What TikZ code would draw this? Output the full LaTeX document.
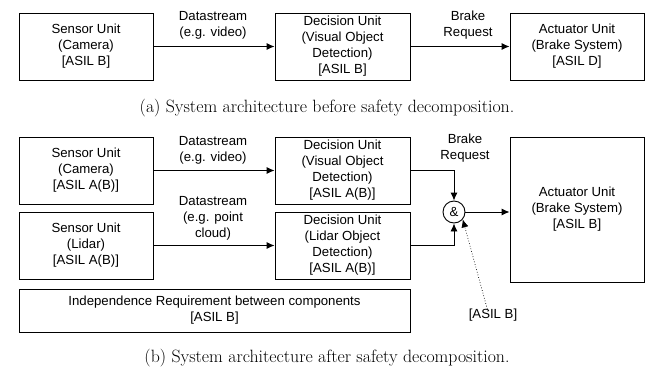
\documentclass[tikz,border=0pt]{standalone}
\usepackage{fontspec}
\setsansfont{Liberation Sans}
\usetikzlibrary{arrows.meta}

\newcommand{\boxfont}{\sffamily\fontsize{13.2}{16}\selectfont}
\newcommand{\capfont}{\rmfamily\fontsize{17.8}{20}\selectfont}

\tikzset{
	unit/.style={draw, line width=0.9pt, align=center, inner sep=0pt,
		minimum width=134pt, minimum height=67pt, font=\boxfont},
	lbl/.style={align=center, inner sep=0pt, font=\boxfont},
	flow/.style={-{Latex[length=8pt,width=7pt]}, line width=0.9pt},
	frame/.style={draw, double, double distance=1.4pt, line width=0.6pt},
}

\begin{document}
\begin{tikzpicture}[x=1pt,y=-1pt]
	\useasboundingbox (0,0) rectangle (654,378);
	% (a) before decomposition
	\draw[frame] (13,7) rectangle (650,86);
	\node[unit] (sensA) at (86,46.5) {Sensor Unit\\(Camera)\\{[ASIL B]}};
	\node[unit, minimum width=135pt] (decA) at (342.5,46.5) {Decision Unit\\(Visual Object\\Detection)\\{[ASIL B]}};
	\node[unit] (actA) at (577,46.5) {Actuator Unit\\(Brake System)\\{[ASIL D]}};
	\draw[flow] (sensA) -- (decA);
	\draw[flow] (decA) -- (actA);
	\node[lbl] (dsA) at (213,25) {Datastream\\(e.g. video)};
	\node[lbl] (brA) at (468,25) {Brake\\Request};
	\node[font=\capfont] (capA) at (327,108) {(a) System architecture before safety decomposition.};

	% (b) after decomposition
	\draw[frame] (13,129) rectangle (650,338);
	\node[unit] (sensCam) at (86,170.5) {Sensor Unit\\(Camera)\\{[ASIL A(B)]}};
	\node[unit] (sensLid) at (86,245.5) {Sensor Unit\\(Lidar)\\{[ASIL A(B)]}};
	\node[unit, minimum width=135pt] (decVis) at (342.5,170.5) {Decision Unit\\(Visual Object\\Detection)\\{[ASIL A(B)]}};
	\node[unit, minimum width=135pt] (decLid) at (342.5,245.5) {Decision Unit\\(Lidar Object\\Detection)\\{[ASIL A(B)]}};
	\node[unit, minimum height=145pt] (actB) at (577,209.5) {Actuator Unit\\(Brake System)\\{[ASIL B]}};
	\node[draw, circle, line width=0.9pt, minimum size=22pt, inner sep=0pt, font=\boxfont] (and) at (454,212) {\&};
	\node[unit, minimum width=391pt, minimum height=43pt] (indep) at (214.5,310.5) {Independence Requirement between components\\{[ASIL B]}};
	\node[lbl] (asil) at (493,315) {[ASIL B]};
	\draw[flow] (sensCam) -- (decVis);
	\draw[flow] (sensLid) -- (decLid);
	\draw[flow] (decVis.east) -| (and.north);
	\draw[flow] (decLid.east) -| (and.south);
	\draw[flow] (and.east) -- (and.east -| actB.west);
	\draw[-{Latex[length=8pt,width=7pt]}, dotted, line width=0.7pt] ([xshift=-5pt,yshift=-3pt]asil.north) -- (and.-40);
	\node[lbl] (dsCam) at (213,150) {Datastream\\(e.g. video)};
	\node[lbl] (dsLid) at (213,218) {Datastream\\(e.g. point\\cloud)};
	\node[lbl] (brB) at (465,148) {Brake\\Request};
	\node[font=\capfont] (capB) at (327,358) {(b) System architecture after safety decomposition.};
\end{tikzpicture}
\end{document}
